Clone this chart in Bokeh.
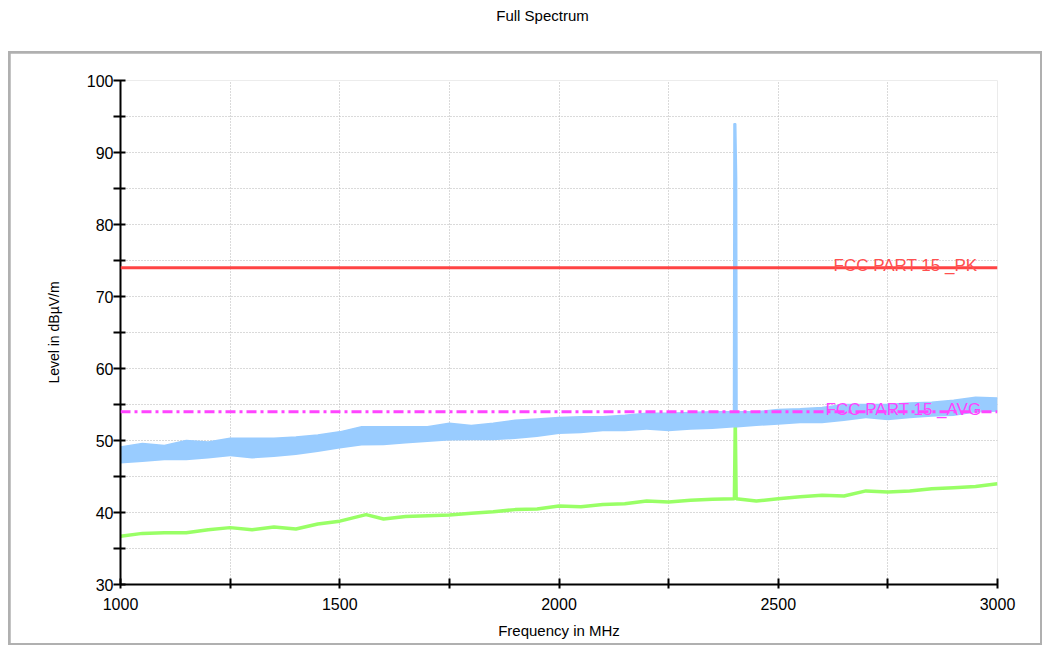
from bokeh.plotting import figure
from bokeh.layouts import column
from bokeh.models import ColumnDataSource, FixedTicker, Label, Span, Range1d
from bokeh.embed import file_html
from bokeh.resources import INLINE

FONT = "Liberation Sans"

# Peak detector: lower / upper edge of the noise band, in dBµV/m
peak_freq = [1000, 1050, 1100, 1150, 1200, 1250, 1300, 1350, 1400, 1450,
             1500, 1550, 1600, 1650, 1700, 1750, 1800, 1850, 1900, 1950,
             2000, 2050, 2100, 2150, 2200, 2250, 2300, 2350, 2398, 2399,
             2403, 2405, 2406, 2450, 2500, 2550, 2600, 2650, 2700, 2750,
             2800, 2850, 2900, 2950, 3000]
peak_low = [46.8, 47.0, 47.25, 47.25, 47.5, 47.8, 47.5, 47.7, 48.0, 48.4,
            48.9, 49.3, 49.35, 49.6, 49.8, 50.0, 50.05, 50.05, 50.2, 50.5,
            50.9, 51.0, 51.3, 51.3, 51.5, 51.3, 51.5, 51.6, 51.8, 51.8,
            51.8, 51.8, 51.8, 52.0, 52.2, 52.4, 52.4, 52.7, 53.1, 52.8,
            53.1, 53.3, 53.4, 53.9, 54.0]
peak_high = [49.1, 49.6, 49.3, 50.0, 49.8, 50.3, 50.3, 50.3, 50.5, 50.75,
             51.2, 51.9, 51.9, 51.9, 51.9, 52.4, 52.1, 52.4, 52.8, 53.0,
             53.2, 53.3, 53.3, 53.5, 53.8, 53.8, 53.9, 54.0, 54.0, 94.0,
             94.0, 86.5, 54.0, 54.0, 54.3, 54.4, 54.6, 55.0, 55.0, 55.0,
             55.2, 55.3, 55.6, 56.0, 55.9]

# Average detector trace, in dBµV/m
avg_freq = [1000, 1050, 1100, 1150, 1200, 1250, 1300, 1350, 1400, 1450,
            1500, 1560, 1600, 1650, 1700, 1750, 1800, 1850, 1900, 1950,
            2000, 2050, 2100, 2150, 2200, 2250, 2300, 2350, 2400, 2402,
            2404, 2450, 2500, 2550, 2600, 2650, 2700, 2750, 2800, 2850,
            2900, 2950, 3000]
avg_level = [36.7, 37.1, 37.2, 37.2, 37.6, 37.9, 37.6, 38.0, 37.7, 38.4,
             38.8, 39.7, 39.1, 39.45, 39.55, 39.65, 39.9, 40.1, 40.4, 40.5,
             40.9, 40.8, 41.1, 41.2, 41.6, 41.45, 41.7, 41.85, 41.9, 53.0,
             41.9, 41.6, 41.9, 42.2, 42.4, 42.3, 43.0, 42.85, 43.0, 43.3,
             43.45, 43.6, 44.0]

# FCC Part 15 limits
limit_pk = 74.0
limit_avg = 54.0
limit_pk_name = "FCC PART 15 _PK"
limit_avg_name = "FCC PART 15 _AVG"

x_major = [1000, 1500, 2000, 2500, 3000]
x_minor = [1250, 1750, 2250, 2750]
y_major = [30, 40, 50, 60, 70, 80, 90, 100]
y_minor = [35, 45, 55, 65, 75, 85, 95]

# ---- heading strip; its frame spans the same pixels as the chart frame
head = figure(width=1048, height=51, output_backend="svg", toolbar_location=None,
              x_range=Range1d(120, 997), y_range=Range1d(51, 0),
              x_axis_type=None, y_axis_type=None, min_border=0,
              min_border_left=120, min_border_right=51, min_border_top=0,
              min_border_bottom=0)
head.outline_line_color = None
head.add_layout(Label(x=542, y=15, text="Full Spectrum", text_font=FONT,
                      text_font_size="15px", text_color="black",
                      text_align="center", text_baseline="middle"))

# ---- main chart; a gray 2px margin around it forms the outer frame
p = figure(width=1030, height=590, output_backend="svg", toolbar_location=None,
           x_range=Range1d(1000, 3000), y_range=Range1d(30, 100),
           min_border_left=110, min_border_right=43, min_border_top=27,
           min_border_bottom=59, margin=(2, 2, 2, 2))
p.outline_line_color = None
p.background_fill_color = "white"
p.border_fill_color = "white"

xt = FixedTicker(ticks=x_major, minor_ticks=x_minor)
yt = FixedTicker(ticks=y_major, minor_ticks=y_minor)
p.xaxis.ticker = xt
p.yaxis.ticker = yt
for ax in (p.xaxis[0], p.yaxis[0]):
    ax.axis_line_width = 2
    ax.axis_line_color = "black"
    ax.major_tick_line_width = 2
    ax.minor_tick_line_width = 2
    ax.major_tick_line_color = "black"
    ax.minor_tick_line_color = "black"
    ax.major_label_text_font = FONT
    ax.major_label_text_font_size = "16px"
    ax.major_label_text_color = "black"
    ax.axis_label_text_font = FONT
    ax.axis_label_text_font_style = "normal"
    ax.axis_label_text_color = "black"

p.xaxis.major_tick_in = 6
p.xaxis.major_tick_out = 4
p.xaxis.minor_tick_in = 6
p.xaxis.minor_tick_out = 4
p.xaxis.major_label_standoff = 9
p.xaxis.axis_label = "Frequency in MHz"
p.xaxis.axis_label_text_font_size = "15px"
p.xaxis.axis_label_standoff = 9

p.yaxis.major_tick_in = 5
p.yaxis.major_tick_out = 7
p.yaxis.minor_tick_in = 5
p.yaxis.minor_tick_out = 7
p.yaxis.major_label_standoff = 0
p.yaxis.axis_label = "Level in dBµV/m"
p.yaxis.axis_label_text_font_size = "14px"
p.yaxis.axis_label_standoff = 22

# dotted grid on every major and minor tick
for g, t in ((p.xgrid[0], xt), (p.ygrid[0], yt)):
    g.ticker = t
    g.grid_line_color = "#b4b4b4"
    g.grid_line_dash = "1 2"
    g.grid_line_width = 1
    g.minor_grid_line_color = "#b4b4b4"
    g.minor_grid_line_dash = "1 2"
    g.minor_grid_line_width = 1

# traces
avg_src = ColumnDataSource(dict(f=avg_freq, v=avg_level))
p.line("f", "v", source=avg_src, line_color="#99ff66", line_width=3.5)

peak_src = ColumnDataSource(dict(f=peak_freq, lo=peak_low, hi=peak_high))
p.varea(x="f", y1="lo", y2="hi", source=peak_src, fill_color="#99ccff")
p.line("f", "hi", source=peak_src, line_color="#99ccff", line_width=1.5)

# limit lines
p.add_layout(Span(location=limit_pk, dimension="width", line_color="#ff4444",
                  line_width=3))
p.add_layout(Span(location=limit_avg, dimension="width", line_color="#ff44ff",
                  line_width=3, line_dash="10 4 3 4"))

p.add_layout(Label(x=2626, y=limit_pk, y_offset=2, text=limit_pk_name,
                   text_font=FONT, text_font_size="17px",
                   text_color="#ff5050", text_baseline="alphabetic"))
p.add_layout(Label(x=2608, y=limit_avg, y_offset=2, text=limit_avg_name,
                   text_font=FONT, text_font_size="17px",
                   text_color="#ff44ff", text_baseline="alphabetic"))

framed = column(p, margin=(0, 0, 0, 8), spacing=0,
                styles={"background-color": "#b0b0b0"})
layout = column(head, framed, spacing=0)
open("out.html", "w").write(file_html(layout, INLINE))
